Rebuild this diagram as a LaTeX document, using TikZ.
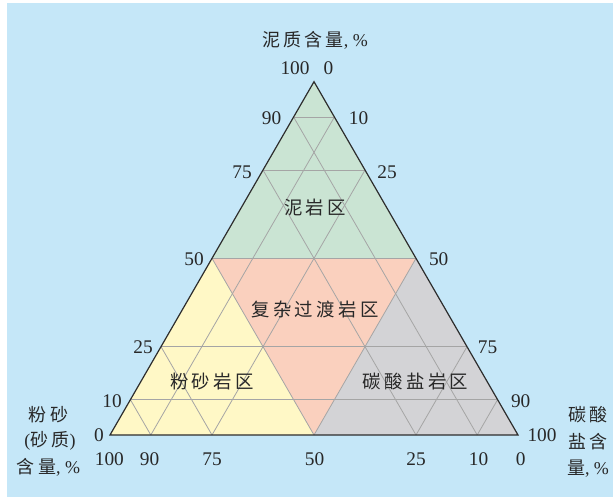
\documentclass[tikz,border=0pt]{standalone}
\usepackage{fontspec}
\setmainfont{Liberation Serif}
\newfontfamily\cjk[LetterSpace=18]{Noto Sans CJK SC}
\usetikzlibrary{calc}
\definecolor{bgblue}{RGB}{197,231,248}
\definecolor{mudgreen}{RGB}{202,228,211}
\definecolor{mixpink}{RGB}{250,208,190}
\definecolor{siltyellow}{RGB}{255,248,198}
\definecolor{carbgray}{RGB}{211,211,214}
\definecolor{gridgray}{RGB}{165,165,165}
\definecolor{edgedark}{RGB}{45,45,45}
\definecolor{txt}{RGB}{40,40,40}
\tikzset{
  gridline/.style={draw=gridgray, line width=0.6pt},
  edgeline/.style={draw=edgedark, line width=0.9pt, line join=miter},
  num/.style={text=txt, font=\fontsize{14.5}{15}\selectfont, inner sep=0pt},
  zone/.style={text=txt, font=\fontsize{13.8}{15}\cjk, inner sep=0pt},
  axistitle/.style={text=txt, font=\fontsize{13.5}{15}\selectfont, inner sep=0pt},
}
\begin{document}
\begin{tikzpicture}[x=0.75pt,y=-0.75pt]
\useasboundingbox (0,0) rectangle (613,499);
\fill[bgblue] (7,3) rectangle (613,497);
% corners
\coordinate (L) at (110,435);
\coordinate (R) at (518,435);
\coordinate (T) at (314,81.7);
\coordinate (LM) at (barycentric cs:L=0.5,T=0.5);
\coordinate (RM) at (barycentric cs:R=0.5,T=0.5);
\coordinate (BM) at (barycentric cs:L=0.5,R=0.5);
% regions
\fill[mudgreen] (T) -- (LM) -- (RM) -- cycle;
\fill[siltyellow] (L) -- (LM) -- (BM) -- cycle;
\fill[carbgray] (R) -- (RM) -- (BM) -- cycle;
\fill[mixpink] (LM) -- (RM) -- (BM) -- cycle;
% grid
\foreach \v in {0.1,0.25,0.5,0.75,0.9}{
  \pgfmathsetmacro\w{1-\v}
  \draw[gridline] (barycentric cs:L=\w,T=\v) -- (barycentric cs:R=\w,T=\v);
  \draw[gridline] (barycentric cs:R=\v,L=\w) -- (barycentric cs:R=\v,T=\w);
  \draw[gridline] (barycentric cs:L=\v,R=\w) -- (barycentric cs:L=\v,T=\w);
}
% outline
\draw[edgeline] (L) -- (R) -- (T) -- cycle;
% top labels
\node[num] (t100) at (295,68) {100};
\node[num] (t0) at (328.5,68) {0};
% left edge labels
\node[num] (l90) at (271.5,118) {90};
\node[num] (l75) at (242,172) {75};
\node[num] (l50) at (194,259) {50};
\node[num] (l25) at (143,347) {25};
\node[num] (l10) at (112,401) {10};
\node[num] (l0) at (99,435) {0};
% right edge labels
\node[num] (r10) at (358.6,118) {10};
\node[num] (r25) at (387,172) {25};
\node[num] (r50) at (438.7,259) {50};
\node[num] (r75) at (487.5,347) {75};
\node[num] (r90) at (520.7,401) {90};
\node[num] (r100) at (542,435) {100};
% bottom labels
\node[num] (b100) at (109.4,459) {100};
\node[num] (b90) at (149.6,459) {90};
\node[num] (b75) at (212,459) {75};
\node[num] (b50) at (314.5,459) {50};
\node[num] (b25) at (416,459) {25};
\node[num] (b10) at (478.5,459) {10};
\node[num] (b0) at (520.7,459) {0};
% axis titles
\node[axistitle] (ttl) at (315,40) {{\cjk 泥质含量}, \%};
\node[axistitle] (lt1) at (48.5,415) {{\cjk 粉砂}};
\node[axistitle] (lt2) at (50,441) {({\cjk 砂质})};
\node[axistitle] (lt3) at (48.5,467) {{\cjk 含量}, \%};
\node[axistitle] (rt1) at (588,415) {{\cjk 碳酸}};
\node[axistitle] (rt2) at (588,442) {{\cjk 盐含}};
\node[axistitle] (rt3) at (588,469) {{\cjk 量}, \%};
% zone labels
\node[zone] (zmud) at (315,208) {泥岩区};
\node[zone] (zmix) at (315,309) {复杂过渡岩区};
\node[zone] (zsilt) at (212,382) {粉砂岩区};
\node[zone] (zcarb) at (415.5,382) {碳酸盐岩区};
\end{tikzpicture}
\end{document}
